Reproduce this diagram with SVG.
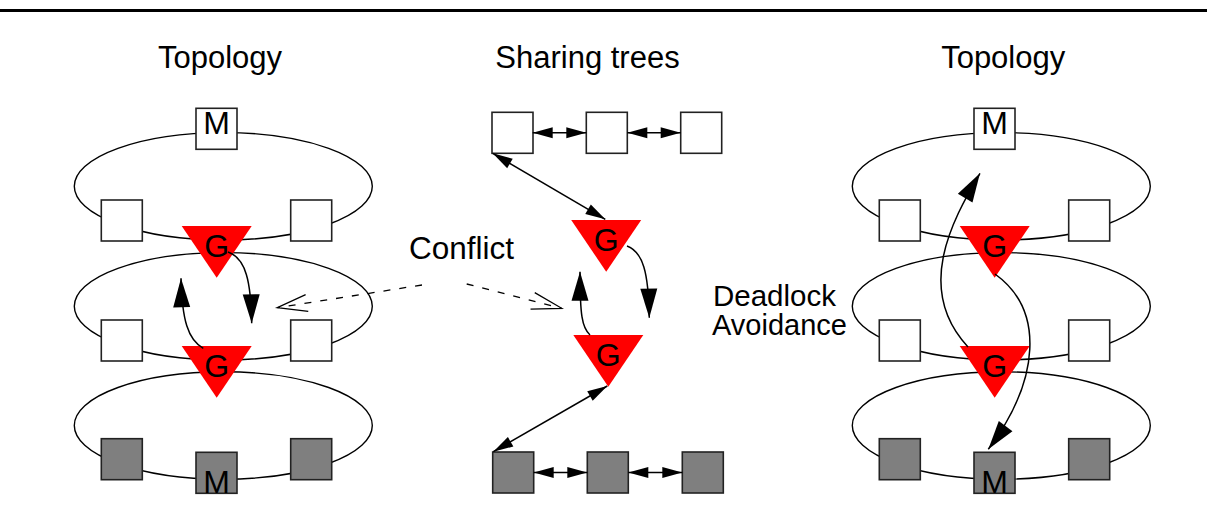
<svg xmlns="http://www.w3.org/2000/svg" width="1207" height="527" viewBox="0 0 1207 527">
<style>
.ring{fill:none;stroke:#000;stroke-width:1.4}
.sq{fill:#fff;stroke:#222;stroke-width:1.6}
.gsq{fill:#7f7f7f;stroke:#222;stroke-width:1.6}
.tri{fill:#ff0000;stroke:none}
.lbl{font-family:"Liberation Sans",Arial,sans-serif;font-size:30px;fill:#000}
.nl{font-family:"Liberation Sans",Arial,sans-serif;font-size:32px;fill:#000;text-anchor:middle}
.title{font-family:"Liberation Sans",Arial,sans-serif;font-size:31px;fill:#000}
.mid{text-anchor:middle}
.cv{fill:none;stroke:#000;stroke-width:1.5}
.dash{fill:none;stroke:#000;stroke-width:1.3;stroke-dasharray:7 9}
</style>
<defs>
<marker id="big" markerUnits="userSpaceOnUse" markerWidth="29" markerHeight="17" refX="29" refY="8.5" orient="auto" overflow="visible"><path d="M0,0 L29,8.5 L0,17 z" fill="#000"/></marker>
<marker id="small" markerUnits="userSpaceOnUse" markerWidth="20" markerHeight="11" refX="20" refY="5.5" orient="auto-start-reverse" overflow="visible"><path d="M0,0 L20,5.5 L0,11 z" fill="#000"/></marker>
<marker id="open" markerUnits="userSpaceOnUse" markerWidth="30" markerHeight="17" refX="30" refY="8.5" orient="auto" overflow="visible"><path d="M0,0 L30,8.5 L0,17" fill="none" stroke="#000" stroke-width="1.3"/></marker>
</defs>
<rect width="1207" height="527" fill="#fff"/>
<line x1="0" y1="10.5" x2="1207" y2="10.5" stroke="#000" stroke-width="3"/>

<g id="titles">
<text class="title mid" x="220" y="67.7">Topology</text>
<text class="title mid" x="587.5" y="67.7">Sharing trees</text>
<text class="title mid" x="1003.2" y="67.7">Topology</text>
</g>

<!-- Left topology -->
<g id="left-rings">
<ellipse class="ring" cx="223.3" cy="186.3" rx="149" ry="53.7"/>
<ellipse class="ring" cx="223.3" cy="306.3" rx="149" ry="53.7"/>
<ellipse class="ring" cx="223.3" cy="425.5" rx="149" ry="53.7"/>
</g>
<g id="L-M-top"><rect class="sq" x="196" y="108.3" width="41" height="41"/><text class="nl" x="216.5" y="133.5">M</text></g>
<g id="L-r1-left"><rect class="sq" x="101.3" y="200" width="41" height="41"/></g>
<g id="L-r1-right"><rect class="sq" x="290.7" y="200" width="41" height="41"/></g>
<g id="L-r2-left"><rect class="sq" x="101.3" y="320" width="41" height="41"/></g>
<g id="L-r2-right"><rect class="sq" x="290.7" y="320" width="41" height="41"/></g>
<g id="L-r3-left"><rect class="gsq" x="101.3" y="438.7" width="41" height="41"/></g>
<g id="L-r3-right"><rect class="gsq" x="290.7" y="438.7" width="41" height="41"/></g>
<g id="L-M-bottom"><rect class="gsq" x="196" y="452.3" width="41" height="41"/><text class="nl" x="216.5" y="493">M</text></g>
<g id="L-G1"><polygon class="tri" points="181.7,226 251.7,226 216.7,277.7"/><text class="nl" x="216.7" y="257">G</text></g>
<g id="L-G2"><polygon class="tri" points="181.7,346 251.7,346 216.7,397.7"/><text class="nl" x="216.7" y="377">G</text></g>

<!-- Middle sharing trees -->
<g id="S-top1"><rect class="sq" x="492" y="112.3" width="41" height="41"/></g>
<g id="S-top2"><rect class="sq" x="586.3" y="112.3" width="41" height="41"/></g>
<g id="S-top3"><rect class="sq" x="680.7" y="112.3" width="41" height="41"/></g>
<g id="S-bot1"><rect class="gsq" x="492.7" y="452" width="41" height="41"/></g>
<g id="S-bot2"><rect class="gsq" x="587.3" y="452" width="41" height="41"/></g>
<g id="S-bot3"><rect class="gsq" x="682.3" y="452" width="41" height="41"/></g>
<g id="S-G1"><polygon class="tri" points="571.2,220 641.2,220 606.2,271.7"/><text class="nl" x="606.2" y="251">G</text></g>
<g id="S-G2"><polygon class="tri" points="573.3,335 643.3,335 608.3,386.7"/><text class="nl" x="608.3" y="366">G</text></g>

<!-- Right topology -->
<g id="right-rings">
<ellipse class="ring" cx="1001.3" cy="186.3" rx="149" ry="53.7"/>
<ellipse class="ring" cx="1001.3" cy="306.3" rx="149" ry="53.7"/>
<ellipse class="ring" cx="1001.3" cy="425.5" rx="149" ry="53.7"/>
</g>
<g id="R-M-top"><rect class="sq" x="974" y="108.3" width="41" height="41"/><text class="nl" x="994.5" y="133.5">M</text></g>
<g id="R-r1-left"><rect class="sq" x="879.3" y="200" width="41" height="41"/></g>
<g id="R-r1-right"><rect class="sq" x="1068.7" y="200" width="41" height="41"/></g>
<g id="R-r2-left"><rect class="sq" x="879.3" y="320" width="41" height="41"/></g>
<g id="R-r2-right"><rect class="sq" x="1068.7" y="320" width="41" height="41"/></g>
<g id="R-r3-left"><rect class="gsq" x="879.3" y="438.7" width="41" height="41"/></g>
<g id="R-r3-right"><rect class="gsq" x="1068.7" y="438.7" width="41" height="41"/></g>
<g id="R-M-bottom"><rect class="gsq" x="974" y="452.3" width="41" height="41"/><text class="nl" x="994.5" y="493">M</text></g>
<g id="R-G1"><polygon class="tri" points="959.7,226 1029.7,226 994.7,277.7"/><text class="nl" x="994.7" y="257">G</text></g>
<g id="R-G2"><polygon class="tri" points="959.7,346 1029.7,346 994.7,397.7"/><text class="nl" x="994.7" y="377">G</text></g>

<g id="labels">
<text class="lbl" x="409" y="259.3" style="font-size:31.5px">Conflict</text>
<text class="lbl" x="713" y="306" style="font-size:29.5px">Deadlock</text>
<text class="lbl" x="712" y="335" style="font-size:29px">Avoidance</text>
</g>

<g id="connectors">
<!-- left panel cycle -->
<path class="cv" d="M228,252 C246,258 251,282 251.7,323.3" marker-end="url(#big)"/>
<path class="cv" d="M203.3,348.3 C188,340 182,320 181,278.3" marker-end="url(#big)"/>
<!-- conflict dashed -->
<path class="dash" d="M422,285 L277.3,307.7" marker-end="url(#open)"/>
<path class="dash" d="M466.7,284 L561.7,308.3" marker-end="url(#open)"/>
<!-- middle -->
<path class="cv" d="M627,246 C643,252 648.5,272 649.3,317.7" marker-end="url(#big)"/>
<path class="cv" d="M590,335 C582,328 580,315 580,271.7" marker-end="url(#big)"/>
<line class="cv" x1="532.7" y1="132.8" x2="586.3" y2="132.8" marker-start="url(#small)" marker-end="url(#small)"/>
<line class="cv" x1="627.3" y1="132.8" x2="680.7" y2="132.8" marker-start="url(#small)" marker-end="url(#small)"/>
<line class="cv" x1="492.7" y1="153.3" x2="605.3" y2="219.3" marker-start="url(#small)" marker-end="url(#small)"/>
<line class="cv" x1="607.3" y1="386" x2="493.3" y2="451.7" marker-start="url(#small)" marker-end="url(#small)"/>
<line class="cv" x1="533.7" y1="472.5" x2="587.3" y2="472.5" marker-start="url(#small)" marker-end="url(#small)"/>
<line class="cv" x1="628.3" y1="472.5" x2="682.3" y2="472.5" marker-start="url(#small)" marker-end="url(#small)"/>
<!-- right panel deadlock avoidance -->
<path class="cv" d="M968,347 C915,290 951,222 980,173.3" marker-end="url(#big)"/>
<path class="cv" d="M995,274 C1045,310 1040,380 988.3,449.3" marker-end="url(#big)"/>
</g>
</svg>
